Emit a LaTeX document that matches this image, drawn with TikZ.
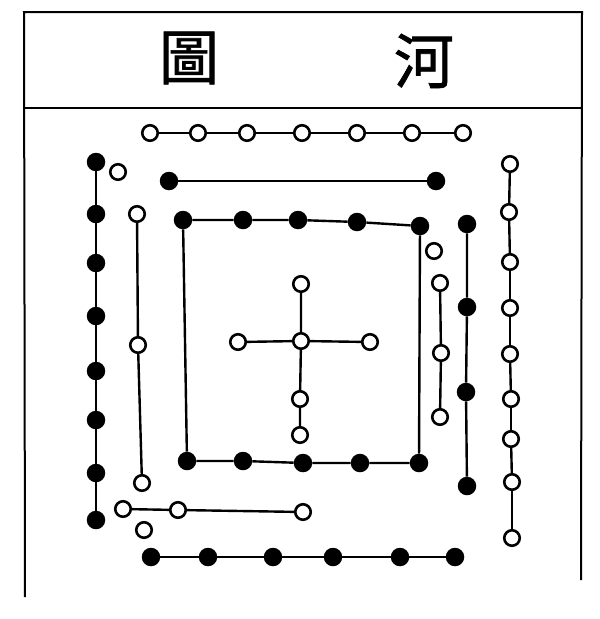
\documentclass[tikz,border=0pt]{standalone}
\usepackage{fontspec}
\newfontfamily\cjk[FakeBold=1.2]{Noto Sans CJK TC}
\begin{document}
\begin{tikzpicture}[x=1pt,y=-1pt,
  wdot/.style={circle,draw=black,line width=2.6pt,fill=white,minimum size=15.5pt,inner sep=0pt},
  bdot/.style={circle,fill=black,minimum size=18.5pt,inner sep=0pt},
  ln/.style={line width=2.4pt},
  frame/.style={line width=2pt},
  title/.style={font=\cjk\fontsize{60}{60}\selectfont,inner sep=0pt}]
\useasboundingbox (0,0) rectangle (600,619);
% frame
\coordinate (fTL) at (24,12);
\coordinate (fTR) at (582,12);
\coordinate (fML) at (24,108);
\coordinate (fMR) at (582,108);
\coordinate (fBL) at (25,597);
\coordinate (fBR) at (581,580);
\draw[frame] (fBL) -- (fTL) -- (fTR) -- (fBR);
\draw[frame] (fML) -- (fMR);
\node[title] (t1) at (189,58) {圖};
\node[title] (t2) at (424,61) {河};

% top white row
\foreach \x [count=\i] in {150,198,247,302,357,412,463}
  \node[wdot] (T\i) at (\x,133) {};
\foreach \i in {1,...,6}{\pgfmathtruncatemacro\j{\i+1}\draw[ln] (T\i) -- (T\j);}

% black pair row
\node[bdot] (R1) at (169,181) {};
\node[bdot] (R2) at (436,181) {};
\draw[ln] (R1) -- (R2);

% left black column
\foreach \y [count=\i] in {162,214,263,316,371,420,473,520}
  \node[bdot] (L\i) at (96,\y) {};
\foreach \i in {1,...,7}{\pgfmathtruncatemacro\j{\i+1}\draw[ln] (L\i) -- (L\j);}

% isolated whites
\node[wdot] (I1) at (118,172) {};
\node[wdot] (I2) at (434,251) {};
\node[wdot] (I3) at (144,530) {};

% inner left white column
\node[wdot] (W1) at (137,214) {};
\node[wdot] (W2) at (138,345) {};
\node[wdot] (W3) at (142,483) {};
\draw[ln] (W1) -- (W2) -- (W3);

% inner square
\foreach \x/\y [count=\i] in {183/220,243/220,298/220,357/222,420/226}
  \node[bdot] (S\i) at (\x,\y) {};
\foreach \x/\y [count=\i] in {187/461,243/461,303/463,360/463,419/463}
  \node[bdot] (B\i) at (\x,\y) {};
\draw[ln] (S1) -- (S2) -- (S3) -- (S4) -- (S5) -- (B5) -- (B4) -- (B3) -- (B2) -- (B1) -- (S1);

% centre cross
\node[wdot] (C0) at (301,341) {};
\node[wdot] (Cu) at (301,284) {};
\node[wdot] (Cl) at (238,342) {};
\node[wdot] (Cr) at (370,342) {};
\node[wdot] (Cd1) at (300,399) {};
\node[wdot] (Cd2) at (300,435) {};
\draw[ln] (Cu) -- (C0) -- (Cd1) -- (Cd2);
\draw[ln] (Cl) -- (C0) -- (Cr);

% right inner white column
\node[wdot] (E1) at (440,283) {};
\node[wdot] (E2) at (441,353) {};
\node[wdot] (E3) at (440,417) {};
\draw[ln] (E1) -- (E2) -- (E3);

% right black column
\node[bdot] (K1) at (467,224) {};
\node[bdot] (K2) at (467,307) {};
\node[bdot] (K3) at (466,392) {};
\node[bdot] (K4) at (467,486) {};
\draw[ln] (K1) -- (K2) -- (K3) -- (K4);

% right white column
\foreach \x/\y [count=\i] in {510/164,509/212,510/262,510/308,510/354,511/399,511/439,512/482,512/538}
  \node[wdot] (P\i) at (\x,\y) {};
\foreach \i in {1,...,8}{\pgfmathtruncatemacro\j{\i+1}\draw[ln] (P\i) -- (P\j);}

% lower white row
\node[wdot] (D1) at (123,509) {};
\node[wdot] (D2) at (178,510) {};
\node[wdot] (D3) at (303,512) {};
\draw[ln] (D1) -- (D2) -- (D3);

% bottom black row
\foreach \x [count=\i] in {151,208,273,333,400,455}
  \node[bdot] (G\i) at (\x,557) {};
\foreach \i in {1,...,5}{\pgfmathtruncatemacro\j{\i+1}\draw[ln] (G\i) -- (G\j);}
\end{tikzpicture}
\end{document}
